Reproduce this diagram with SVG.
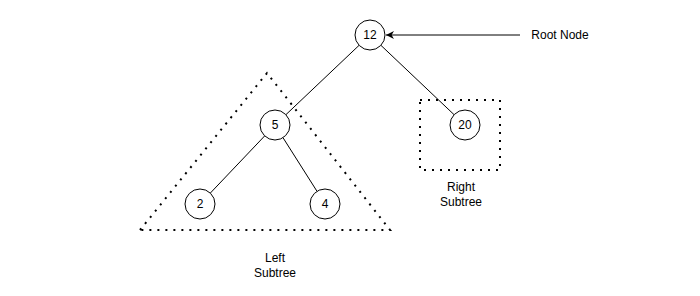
<svg xmlns="http://www.w3.org/2000/svg" width="700" height="296" viewBox="0 0 700 296">
<style>
.node circle{fill:#fff;stroke:#000;stroke-width:1}
.lbl{font-family:"Liberation Sans",Arial,sans-serif;font-size:12px;fill:#000;text-anchor:middle;dominant-baseline:central}
.dot{fill:none;stroke:#000;stroke-width:2;stroke-dasharray:2 6}
.edge{stroke:#000;stroke-width:1;fill:none}
</style>
<defs>
<marker id="arr" viewBox="0 0 10 10" refX="10" refY="5" markerWidth="8" markerHeight="8" markerUnits="userSpaceOnUse" orient="auto">
<path d="M0,0 L10,5 L0,10 L3,5 Z" fill="#000"/>
</marker>
</defs>
<rect width="700" height="296" fill="#fff"/>
<g id="left-subtree-outline">
<polygon class="dot" points="140,230 267,73 390,230"/>
</g>
<g id="right-subtree-outline">
<rect class="dot" x="420" y="100" width="80" height="70"/>
</g>
<g id="connectors">
<line class="edge" x1="359.1" y1="45.3" x2="285.9" y2="114.7"/>
<line class="edge" x1="380.9" y1="45.3" x2="454.1" y2="114.7"/>
<line class="edge" x1="264.7" y1="135.9" x2="210.3" y2="193.1"/>
<line class="edge" x1="283" y1="137.7" x2="317" y2="191.3"/>
<line class="edge" x1="520" y1="35" x2="386" y2="35" marker-end="url(#arr)"/>
</g>
<g id="node-12" class="node"><circle cx="370" cy="35" r="15"/><text class="lbl" x="370" y="35">12</text></g>
<g id="node-5" class="node"><circle cx="275" cy="125" r="15"/><text class="lbl" x="275" y="125">5</text></g>
<g id="node-20" class="node"><circle cx="465" cy="125" r="15"/><text class="lbl" x="465" y="125">20</text></g>
<g id="node-2" class="node"><circle cx="200" cy="204" r="15"/><text class="lbl" x="200" y="204">2</text></g>
<g id="node-4" class="node"><circle cx="325" cy="204" r="15"/><text class="lbl" x="325" y="204">4</text></g>
<g id="label-root"><text class="lbl" x="560" y="35">Root Node</text></g>
<g id="label-right"><text class="lbl" x="461" y="187">Right</text><text class="lbl" x="461" y="202">Subtree</text></g>
<g id="label-left"><text class="lbl" x="275" y="258">Left</text><text class="lbl" x="275" y="273">Subtree</text></g>
</svg>
